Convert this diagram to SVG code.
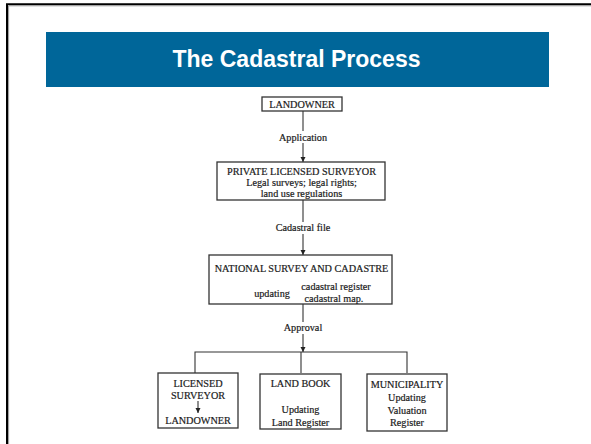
<svg xmlns="http://www.w3.org/2000/svg" width="591" height="444" viewBox="0 0 591 444">
<style>
.t{font-family:"Liberation Serif","Times New Roman",serif;font-size:10.2px;fill:#1a1a1a;stroke:#1a1a1a;stroke-width:0.2;text-anchor:middle}
.box{fill:#fff;stroke:#333;stroke-width:1.3}
.ln{stroke:#333;stroke-width:1.1;fill:none}
</style>
<defs>
<marker id="ah" viewBox="0 0 10 10" refX="10" refY="5" markerWidth="5" markerHeight="5" orient="auto">
<path d="M0,0 L10,5 L0,10 z" fill="#222"/>
</marker>
</defs>
<rect x="0" y="0" width="591" height="444" fill="#fff"/>
<path d="M7,450 V4.3 H600" fill="none" stroke="#000" stroke-width="2"/>
<path d="M8.6,450 V5.8 H600" fill="none" stroke="#999" stroke-width="1"/>
<g id="title">
<rect x="46" y="32" width="503" height="55" fill="#006699"/>
<text x="296.5" y="67" font-family="Liberation Sans, Arial, sans-serif" font-size="23" font-weight="bold" fill="#fff" text-anchor="middle">The Cadastral Process</text>
</g>
<g id="connectors">
<line class="ln" x1="303" y1="111" x2="303" y2="162" marker-end="url(#ah)"/>
<line class="ln" x1="303" y1="200" x2="303" y2="255" marker-end="url(#ah)"/>
<line class="ln" x1="303" y1="304" x2="303" y2="352" marker-end="url(#ah)"/>
<path class="ln" d="M195,373 V352 H407 V373 M301,352 V373"/>
<rect x="274" y="131" width="58" height="12" fill="#fff"/>
<text class="t" x="303" y="140.5">Application</text>
<rect x="270" y="222" width="66" height="12" fill="#fff"/>
<text class="t" x="303" y="231">Cadastral file</text>
<rect x="280" y="322" width="46" height="12" fill="#fff"/>
<text class="t" x="303" y="331">Approval</text>
</g>
<g id="landowner">
<rect class="box" x="262" y="97" width="80" height="14"/>
<text class="t" x="302" y="108">LANDOWNER</text>
</g>
<g id="private-surveyor">
<rect class="box" x="217" y="162" width="168" height="38"/>
<text class="t" x="301.5" y="174.5">PRIVATE LICENSED SURVEYOR</text>
<text class="t" x="301.5" y="186">Legal surveys; legal rights;</text>
<text class="t" x="301.5" y="197">land use regulations</text>
</g>
<g id="national">
<rect class="box" x="209" y="255" width="183" height="49"/>
<text class="t" x="301.5" y="272">NATIONAL SURVEY AND CADASTRE</text>
<text class="t" x="272" y="296.5">updating</text>
<text class="t" x="336" y="289.5">cadastral register</text>
<text class="t" x="334" y="302">cadastral map.</text>
</g>
<g id="licensed-surveyor">
<rect class="box" x="158" y="373" width="80" height="55"/>
<text class="t" x="198" y="387">LICENSED</text>
<text class="t" x="198" y="398.5">SURVEYOR</text>
<line class="ln" x1="198" y1="401" x2="198" y2="413" marker-end="url(#ah)"/>
<text class="t" x="198" y="424">LANDOWNER</text>
</g>
<g id="land-book">
<rect class="box" x="260" y="374" width="81" height="55"/>
<text class="t" x="300.5" y="387">LAND BOOK</text>
<text class="t" x="300.5" y="413">Updating</text>
<text class="t" x="300.5" y="425.5">Land Register</text>
</g>
<g id="municipality">
<rect class="box" x="367" y="374" width="80" height="57"/>
<text class="t" x="407" y="387.5">MUNICIPALITY</text>
<text class="t" x="407" y="401">Updating</text>
<text class="t" x="407" y="413.5">Valuation</text>
<text class="t" x="407" y="426">Register</text>
</g>
</svg>
